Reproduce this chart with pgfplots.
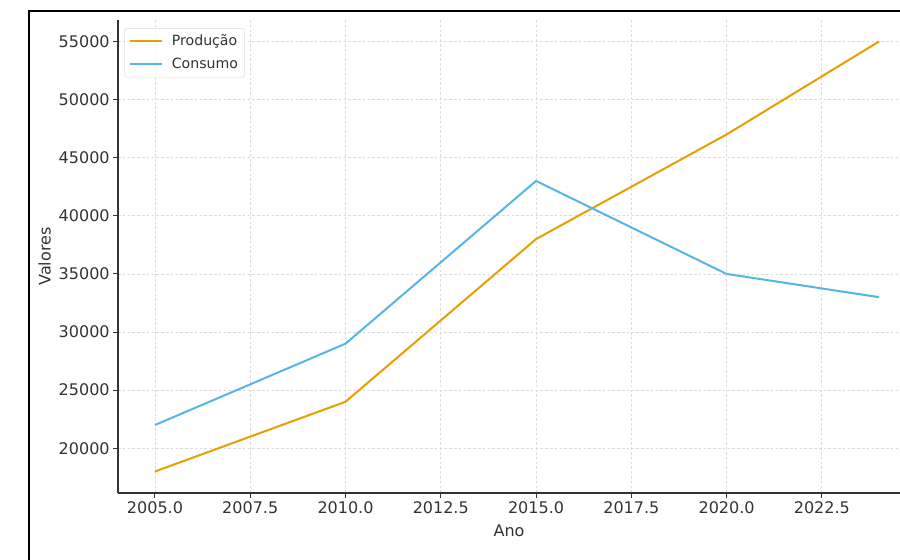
\documentclass[border=0pt]{standalone}
\usepackage{fontspec}
\setmainfont{DejaVu Sans}
\usepackage{pgfplots}
\pgfplotsset{compat=1.18}

\definecolor{prodc}{HTML}{E69F00}
\definecolor{consc}{HTML}{56B4E9}
\definecolor{txt}{HTML}{333333}

\begin{document}
\begin{tikzpicture}
  % page = 900 x 560 px at 0.75pt per px, axis box SW corner at (0,0)
  \useasboundingbox (-88.5pt,-50.25pt) rectangle (586.5pt,369.75pt);
  \begin{axis}[
      at={(0pt,0pt)}, anchor=south west,
      width=586.5pt, height=354.75pt, scale only axis,
      xmin=2004.03, xmax=2024.55,
      ymin=16150, ymax=56850,
      axis x line*=bottom, axis y line*=left,
      axis line style={txt, line width=1.1pt},
      xtick={2005,2007.5,2010,2012.5,2015,2017.5,2020,2022.5},
      ytick={20000,25000,...,55000},
      scaled y ticks=false,
      tick align=outside, major tick length=3.75pt,
      tick style={txt, line width=0.8pt},
      /pgf/number format/assume math mode=true,
      xticklabel style={/pgf/number format/fixed, /pgf/number format/fixed zerofill,
        /pgf/number format/precision=1, /pgf/number format/1000 sep={}, yshift=1pt},
      yticklabel style={/pgf/number format/fixed, /pgf/number format/1000 sep={}, xshift=1pt},
      ticklabel style={font=\fontsize{12}{14}\selectfont, text=txt},
      grid=major,
      major grid style={gray!28, dash pattern=on 2pt off 1.6pt, line width=0.6pt},
      xlabel={Ano}, ylabel={Valores},
      label style={font=\fontsize{12}{14}\selectfont, text=txt},
      xlabel style={yshift=-1.5pt},
      ylabel style={yshift=-1pt},
      legend style={at={(0.008,0.983)}, anchor=north west,
        draw=gray!25, rounded corners=2pt, fill=white, fill opacity=0.8, text opacity=1,
        font=\fontsize{10.6}{12}\selectfont, text=txt,
        inner xsep=3pt, inner ysep=3pt, row sep=3.5pt},
      legend cell align=left,
      legend image code/.code={\draw[#1] (0pt,0pt) -- (24pt,0pt); \path (29pt,0pt);},
    ]
    \addplot[prodc, line width=1.5pt] coordinates {
      (2005,18000) (2010,24000) (2015,38000) (2020,47000) (2024,55000)
    };
    \addlegendentry{Produção}
    \addplot[consc, line width=1.5pt] coordinates {
      (2005,22000) (2010,29000) (2015,43000) (2020,35000) (2024,33000)
    };
    \addlegendentry{Consumo}
  \end{axis}
  % screenshot frame
  \draw[black, line width=1.5pt] (-66.75pt,-60pt) -- (-66.75pt,361.5pt) -- (600pt,361.5pt);
\end{tikzpicture}
\end{document}
